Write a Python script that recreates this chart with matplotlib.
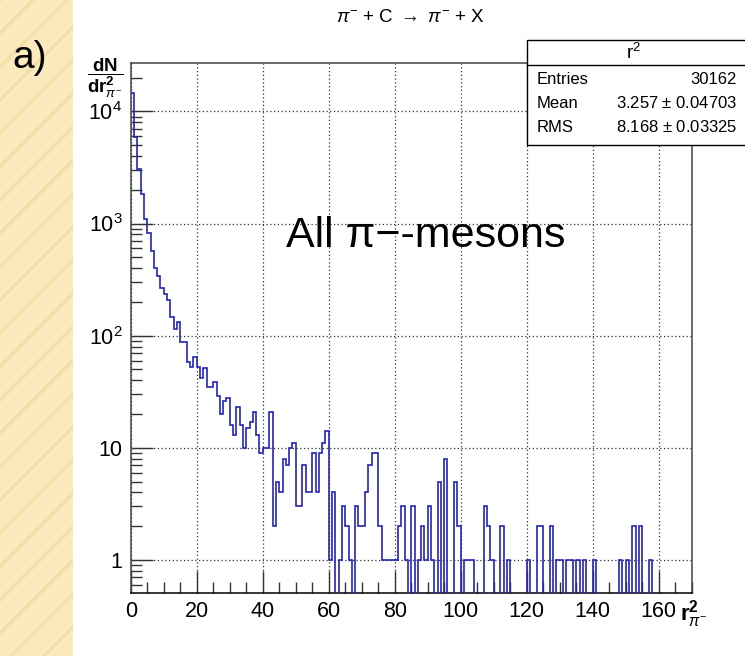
import numpy as np
import matplotlib.pyplot as plt
from matplotlib.patches import Rectangle
from matplotlib.lines import Line2D
from matplotlib.ticker import FixedLocator, MultipleLocator, LogLocator, NullFormatter

plt.rcParams['font.family'] = ['Liberation Sans', 'DejaVu Sans']
plt.rcParams['mathtext.fontset'] = 'custom'
plt.rcParams['mathtext.rm'] = 'Liberation Sans'
plt.rcParams['mathtext.bf'] = 'Liberation Sans:bold'
plt.rcParams['mathtext.it'] = 'Liberation Sans:italic'
plt.rcParams['hatch.linewidth'] = 2.5

# histogram of r^2 (bin width 1, range 0..170)
bin_lo, bin_hi = 0, 170
counts = [
    14500, 5940, 3080, 1840, 1100, 820, 571, 399, 339, 268, 234,        # 0-10
    210, 148, 115, 131, 87, 87,                                          # 11-16
    58, 52, 64, 53, 42, 51, 35, 35, 39, 29, 20, 26, 28, 16,              # 17-30
    13, 23, 16, 10, 15, 17, 21, 13, 9, 10, 10, 21, 2, 5, 4,              # 31-45
    8, 7, 10, 11, 3, 3, 7, 4, 4, 9, 4, 9, 11, 14,                        # 46-59
    1, 4, 0, 1, 3, 2, 1, 0, 3, 2, 2, 4, 7, 9, 9, 2,                      # 60-75
    1, 1, 1, 1, 1,                                                       # 76-80
    2, 3, 1, 0, 3, 0, 1, 2, 1, 3, 1, 0, 5, 0, 8, 0, 0, 5, 2, 0,          # 81-100
    1, 1, 1, 0, 0, 0, 3, 2, 1, 0, 0, 2, 0, 1, 0, 0, 0, 0, 0, 1,          # 101-120
    0, 0, 2, 2, 0, 0, 2, 0, 1, 1, 0, 1, 1, 0, 1, 0, 1, 0, 0, 1,          # 121-140
    0, 0, 0, 0, 0, 0, 0, 1, 0, 1, 0, 2, 0, 2, 0, 0, 1,                   # 141-157
    0, 0, 0, 0, 0, 0, 0, 0, 0, 0, 0, 0,                                  # 158-169
]
x_ticks = [0, 20, 40, 60, 80, 100, 120, 140, 160]
y_ticks = [1, 10, 100, 1000, 10000]
y_ticklabels = ['1', '10', r'10$^{2}$', r'10$^{3}$', r'10$^{4}$']

stats_rows = [('Entries', '30162'),
              ('Mean', r'3.257 $\pm$ 0.04703'),
              ('RMS', r'8.168 $\pm$ 0.03325')]

W, H = 745, 656
fig = plt.figure(figsize=(W / 100, H / 100), dpi=100)


def px(x, y):
    return x / W, 1 - y / H


# beige striped strip on the left
fig.patches.append(Rectangle((0, 0), 73 / W, 1, transform=fig.transFigure,
                             facecolor='#faeabd', edgecolor='#f4dfa8',
                             hatch='/', lw=0, zorder=0))

ax = fig.add_axes([130.7 / W, 63 / H, 561 / W, 530 / H])
edges = np.arange(bin_lo, bin_hi + 1)
vals = np.array(counts, dtype=float)
ylo, yhi = 0.507, 27000
draw_vals = np.where(vals > 0, vals, ylo / 10)
ax.stairs(draw_vals, edges, baseline=None, color='#2424b4', lw=1.2, zorder=3)

ax.set_yscale('log')
ax.set_xlim(bin_lo, bin_hi)
ax.set_ylim(ylo, yhi)

ax.xaxis.set_major_locator(FixedLocator(x_ticks))
ax.xaxis.set_minor_locator(MultipleLocator(5))
ax.yaxis.set_major_locator(FixedLocator(y_ticks))
ax.yaxis.set_minor_locator(LogLocator(base=10, subs=np.arange(2, 10)))
ax.yaxis.set_minor_formatter(NullFormatter())
ax.set_yticklabels(y_ticklabels)
ax.set_xticklabels([str(t) for t in x_ticks])

ax.tick_params(which='both', direction='in', top=False, right=False,
               labelsize=15.5, color='#333333')
ax.tick_params(which='major', length=16, width=1)
ax.tick_params(which='minor', length=8, width=1)
ax.tick_params(axis='x', pad=6)
ax.tick_params(axis='y', pad=6)
ax.grid(True, which='major', ls=(0, (1, 2)), color='#333333', lw=0.9)
for s in ax.spines.values():
    s.set_color('#444444')
    s.set_linewidth(1.1)
ax.spines['bottom'].set_color('black')

# title
fig.text(*px(410, 18), r'$\pi^{-}$ + C $\rightarrow$ $\pi^{-}$ + X',
         ha='center', va='center', fontsize=13.5)

# axis labels
fig.text(*px(105, 78), r'$\dfrac{\mathbf{dN}}{\mathbf{dr}^{\mathbf{2}}_{\pi^{-}}}$',
         ha='center', va='center', fontsize=13.5)
fig.text(*px(694, 614), r'$\mathbf{r}^{\mathbf{2}}_{\pi^{-}}$',
         ha='center', va='center', fontsize=16)

fig.text(*px(12, 58), 'a)', ha='left', va='center', fontsize=28)
fig.text(*px(426, 236), 'All \u03c0\u2212-mesons', ha='center', va='center',
         fontsize=31)

# stats box
box_l, box_t, box_b, box_sep = 527, 40, 145, 65
fig.patches.append(Rectangle(px(box_l, box_b), (W + 5 - box_l) / W, (box_b - box_t) / H,
                             transform=fig.transFigure, facecolor='white',
                             edgecolor='black', lw=1, zorder=5))
fig.lines.append(Line2D([box_l / W, 1], [1 - box_sep / H] * 2,
                        transform=fig.transFigure, color='black', lw=1, zorder=6))
fig.text(*px(634, 53), r'r$^{2}$', ha='center', va='center', fontsize=13.5, zorder=7)
for i, (name, val) in enumerate(stats_rows):
    y = 80 + i * 23.5
    fig.text(*px(537, y), name, ha='left', va='center', fontsize=12, zorder=7)
    fig.text(*px(737, y), val, ha='right', va='center', fontsize=12, zorder=7)

fig.savefig('out.png', dpi=100)
